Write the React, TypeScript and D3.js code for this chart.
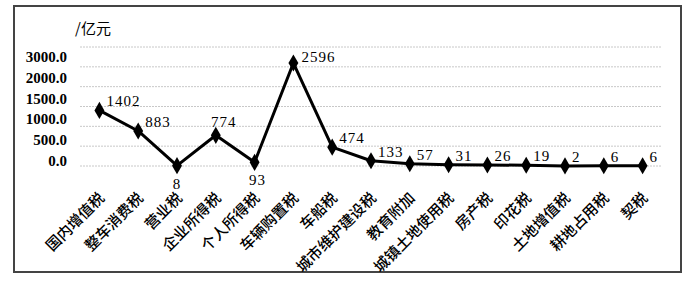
import React from "react";
import * as d3 from "d3";

const categories = [
  "国内增值税", "整车消费税", "营业税", "企业所得税", "个人所得税",
  "车辆购置税", "车船税", "城市维护建设税", "教育附加", "城镇土地使用税",
  "房产税", "印花税", "土地增值税", "耕地占用税", "契税",
];
const values = [1402, 883, 8, 774, 93, 2596, 474, 133, 57, 31, 26, 19, 2, 6, 6];
const yTickLabels = ["3000.0", "2000.0", "1500.0", "1000.0", "500.0", "0.0"];
const gridValues = [0, 500, 1000, 1500, 2000, 2500, 3000];
const unitLabel = "/亿元";

const W = 692, H = 293;

export default function App() {
  const x = d3.scaleBand<string>().domain(categories).range([80, 662]);
  const cx = (c: string) => (x(c) as number) + x.bandwidth() / 2;
  const y = d3.scaleLinear().domain([0, 3000]).range([166, 47]);
  const yLab = d3.scalePoint<string>().domain(yTickLabels).range([57, 161]);
  const line = d3.line<number>().x((_, i) => cx(categories[i])).y((d) => y(d));
  const diamond = d3.symbol().type(d3.symbolDiamond).size(85)() as string;

  const labelPos = (i: number) => {
    const px = cx(categories[i]);
    const py = y(values[i]);
    if (i === 2 || i === 4) return { x: px + (i === 4 ? 3 : 0), y: py + 18, anchor: "middle" };
    if (i === 3) return { x: px + 8, y: py - 13, anchor: "middle" };
    if (i === 5) return { x: px + 8, y: py - 6, anchor: "start" };
    return { x: px + 7, y: py - 9, anchor: "start" };
  };

  return (
    <svg width={W} height={H} style={{ position: "absolute", left: 0, top: 0, background: "#fff" }}>
      <rect x={0} y={0} width={W} height={H} fill="#fff" />
      <rect x={14} y={6} width={667} height={266} fill="none" stroke="#444" strokeWidth={2} />
      <text x={75} y={34} fontFamily="Noto Sans CJK SC" fontSize={15} fill="#000">{unitLabel}</text>
      {gridValues.map((g) => (
        <line key={g} x1={80} x2={662} y1={y(g)} y2={y(g)} stroke="#c8c8c8" strokeWidth={1} strokeDasharray="2,1" />
      ))}
      {yTickLabels.map((t) => (
        <text key={t} x={67} y={yLab(t) as number} textAnchor="end" dominantBaseline="central"
          fontFamily="Liberation Serif" fontSize={15} fontWeight="bold" fill="#000">{t}</text>
      ))}
      <path d={line(values) as string} fill="none" stroke="#000" strokeWidth={3} strokeLinejoin="round" />
      {values.map((v, i) => (
        <path key={i} d={diamond} transform={`translate(${cx(categories[i])},${y(v)})`} fill="#000" />
      ))}
      {values.map((v, i) => {
        const p = labelPos(i);
        return (
          <text key={i} x={p.x} y={p.y} textAnchor={p.anchor as any} dominantBaseline="central"
            fontFamily="Liberation Serif" fontSize={15} letterSpacing={1} fill="#000">{v}</text>
        );
      })}
      {categories.map((c) => (
        <text key={c} transform={`translate(${cx(c) + 6},${199}) rotate(-45)`} textAnchor="end"
          fontFamily="Noto Sans CJK SC" fontSize={15} fontWeight={500} fill="#000">{c}</text>
      ))}
    </svg>
  );
}
